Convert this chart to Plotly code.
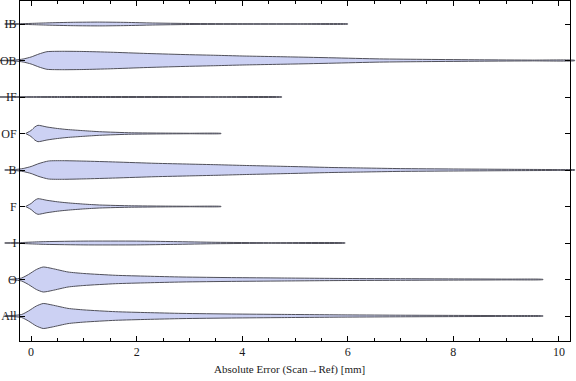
import plotly.graph_objects as go

# ---- data ----
categories = ["All", "O", "I", "F", "B", "OF", "IF", "OB", "IB"]   # bottom -> top
tick_vals_x = [0, 2, 4, 6, 8, 10]

# smoothed density profiles: x = error [mm], d = relative density (half width)
all_x = [-0.5, -0.18, -0.05, 0.1, 0.23, 0.4, 0.7, 1.0, 1.6, 2.2, 2.86, 3.8, 4.75, 6, 7, 8, 9, 9.7]
all_d = [0.012, 0.15, 0.5, 1.0, 1.25, 1.1, 0.76, 0.61, 0.43, 0.34, 0.26, 0.2, 0.16, 0.11, 0.08, 0.06, 0.04, 0.012]
o_x = [-0.4, -0.18, -0.05, 0.1, 0.23, 0.4, 0.7, 1.0, 1.6, 2.2, 2.86, 3.8, 4.75, 6, 7, 8, 9, 9.7]
o_d = [0.012, 0.15, 0.5, 1.0, 1.25, 1.1, 0.75, 0.6, 0.42, 0.33, 0.25, 0.19, 0.15, 0.1, 0.08, 0.06, 0.04, 0.012]
i_x = [-0.5, -0.2, 0, 0.3, 1.0, 2.0, 2.7, 3.5, 4.5, 5.95]
i_d = [0.012, 0.04, 0.09, 0.14, 0.19, 0.19, 0.14, 0.07, 0.03, 0.012]
f_x = [-0.1, 0, 0.07, 0.13, 0.3, 0.5, 0.68, 1.0, 1.3, 1.9, 2.5, 3.0, 3.6]
f_d = [0.012, 0.3, 0.62, 0.78, 0.62, 0.47, 0.37, 0.24, 0.15, 0.07, 0.04, 0.025, 0.012]
b_x = [-0.5, -0.3, -0.15, 0, 0.15, 0.33, 0.6, 1, 1.6, 2.35, 3, 3.5, 4, 5, 5.7, 6.3, 7, 8, 9, 10, 10.3]
b_d = [0.012, 0.05, 0.15, 0.35, 0.65, 0.9, 0.93, 0.89, 0.8, 0.67, 0.59, 0.53, 0.46, 0.34, 0.25, 0.2, 0.14, 0.1, 0.07, 0.04, 0.02]
of_x = [-0.1, 0, 0.07, 0.13, 0.3, 0.5, 0.68, 1.0, 1.3, 1.9, 2.5, 3.0, 3.6]
of_d = [0.012, 0.3, 0.65, 0.82, 0.65, 0.5, 0.4, 0.28, 0.18, 0.07, 0.04, 0.025, 0.012]
if_x = [-0.6, 0, 0.5, 1.5, 2.5, 3.5, 4.75]
if_d = [0.012, 0.03, 0.045, 0.05, 0.045, 0.03, 0.012]
ob_x = [-0.6, -0.3, -0.15, 0, 0.15, 0.3, 0.6, 1, 1.5, 2.2, 3, 3.5, 4, 5, 5.7, 6.6, 7.5, 8.5, 9.5, 10.3]
ob_d = [0.012, 0.05, 0.15, 0.35, 0.65, 0.88, 0.92, 0.9, 0.83, 0.7, 0.58, 0.52, 0.45, 0.35, 0.27, 0.16, 0.11, 0.07, 0.04, 0.02]
ib_x = [-0.5, -0.2, 0, 0.3, 0.8, 1.3, 1.8, 2.3, 3, 4, 5, 6.0]
ib_d = [0.012, 0.03, 0.06, 0.11, 0.17, 0.19, 0.16, 0.1, 0.05, 0.03, 0.02, 0.012]

profiles = [(all_x, all_d), (o_x, o_d), (i_x, i_d), (f_x, f_d), (b_x, b_d),
            (of_x, of_d), (if_x, if_d), (ob_x, ob_d), (ib_x, ib_d)]

# ---- layout constants ----
W, H = 576, 381
X0, X1 = -0.21, 10.21
L_PX, R_PX = 20, 570
Y0, Y1 = 0.315, 9.63
SCALE = 0.274          # category units per density unit

px_per_unit = (R_PX - L_PX) / (X1 - X0)
full_range = [X0 - L_PX / px_per_unit, X1 + (W - R_PX) / px_per_unit]

FILL = "rgb(204,209,243)"
EDGE = "rgb(80,80,90)"
FONT = "Liberation Serif"

fig = go.Figure()
# violins on a full-width, invisible axis pair (so tails can extend past the frame)
for k, (xs, ds) in enumerate(profiles):
    c = k + 1
    upper = [c + d * SCALE for d in ds]
    lower = [c - d * SCALE for d in ds]
    fig.add_trace(go.Scatter(
        x=list(xs) + list(xs)[::-1],
        y=upper + lower[::-1],
        mode="lines", fill="toself", fillcolor=FILL,
        line=dict(color=EDGE, width=1, shape="spline", smoothing=0.6),
        xaxis="x", yaxis="y", hoverinfo="skip", showlegend=False,
    ))

# frame subplot
fig.add_trace(go.Scatter(x=[None], y=[None], xaxis="x2", yaxis="y2", showlegend=False))

fig.update_layout(
    width=W, height=H,
    margin=dict(l=0, r=0, t=1, b=40),
    paper_bgcolor="white", plot_bgcolor="rgba(0,0,0,0)",
    template="none",
    font=dict(family=FONT, size=12, color="#1a1a1a"),
    xaxis=dict(domain=[0, 1], range=full_range, anchor="y", visible=False, fixedrange=True),
    yaxis=dict(domain=[0, 1], range=[Y0, Y1], anchor="x", visible=False, fixedrange=True),
    xaxis2=dict(
        domain=[L_PX / W, R_PX / W], range=[X0, X1], anchor="y2",
        tickvals=tick_vals_x, ticks="inside", ticklen=5, tickwidth=1, tickcolor="black",
        minor=dict(dtick=0.5, tick0=0, ticks="inside", ticklen=3, tickcolor="black"),
        showline=True, linecolor="black", linewidth=1, mirror="allticks",
        showgrid=False, zeroline=False, automargin=False,
        tickfont=dict(family=FONT, size=12),
    ),
    yaxis2=dict(
        domain=[0, 1], range=[Y0, Y1], anchor="x2",
        tickvals=list(range(1, len(categories) + 1)), ticktext=categories,
        ticks="inside", ticklen=5, tickwidth=1, tickcolor="black",
        showline=True, linecolor="black", linewidth=1, mirror="allticks",
        showgrid=False, zeroline=False, automargin=False,
        tickfont=dict(family=FONT, size=12),
    ),
    annotations=[dict(
        text="Absolute Error (Scan\u2192Ref) [mm]", xref="x2 domain", yref="paper",
        x=0.49, y=-0.085, xanchor="center", yanchor="middle", showarrow=False,
        font=dict(family=FONT, size=11, color="#1a1a1a"),
    )],
)

fig.write_html(
    "out.html",
    config={"displayModeBar": False},
    post_script="document.body.style.margin='0';document.body.style.overflow='hidden';",
)
